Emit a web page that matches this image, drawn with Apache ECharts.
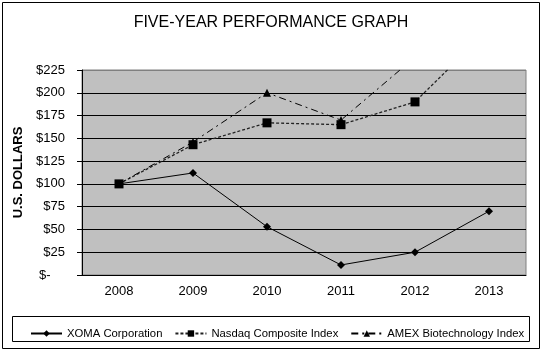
<!DOCTYPE html>
<html>
<head>
<meta charset="utf-8">
<script src="https://cdn.jsdelivr.net/npm/echarts@6/dist/echarts.min.js"></script>
<style>
html, body { margin: 0; padding: 0; background: #fff; }
#main { width: 542px; height: 352px; }
</style>
</head>
<body>
<div id="main"></div>
<script>
// data
var years = ['2008', '2009', '2010', '2011', '2012', '2013'];
var xoma = [100, 112, 53, 11, 25, 70];
var nasdaq = [100, 143, 167, 165, 190, 270];
var amex = [100, 146, 200, 170, 239, 360];
var seriesNames = ['XOMA Corporation', 'Nasdaq Composite Index', 'AMEX Biotechnology Index'];
var yMin = 0, yMax = 225, yStep = 25;

var font = 'Liberation Sans, Arial, sans-serif';
var myChart = echarts.init(document.getElementById('main'));

// split line colours: black, top one grey like the plot border
var splitColors = [];
for (var i = 0; i <= (yMax - yMin) / yStep; i++) {
	splitColors.push(i === (yMax - yMin) / yStep ? '#808080' : '#000');
}

var option = {
	animation: false,
	backgroundColor: '#fff',
	title: {
		text: 'FIVE-YEAR PERFORMANCE GRAPH',
		left: 'center',
		top: 10,
		textStyle: { fontFamily: font, fontSize: 16, fontWeight: 'normal', color: '#000' }
	},
	graphic: [
		{ type: 'rect', shape: { x: 2.5, y: 2.5, width: 537, height: 346 }, style: { fill: null, stroke: '#000', lineWidth: 1 }, z: 100 },
		{ type: 'rect', shape: { x: 12.5, y: 316.5, width: 517, height: 25 }, style: { fill: null, stroke: '#000', lineWidth: 1 }, z: 100 }
	],
	legend: {
		data: seriesNames,
		left: 25,
		top: 323,
		itemWidth: 31,
		itemHeight: 8,
		itemGap: 12,
		textStyle: { fontFamily: font, fontSize: 11.3, color: '#000' }
	},
	grid: {
		left: 82,
		right: 16,
		top: 70,
		bottom: 77,
		show: true,
		backgroundColor: '#c0c0c0',
		borderColor: '#808080',
		borderWidth: 1
	},
	xAxis: {
		type: 'category',
		data: years,
		boundaryGap: true,
		axisLine: { lineStyle: { color: '#000', width: 1 } },
		axisTick: { show: false },
		axisLabel: { margin: 10, fontFamily: font, fontSize: 13, color: '#000' }
	},
	yAxis: {
		type: 'value',
		min: yMin,
		max: yMax,
		interval: yStep,
		name: 'U.S. DOLLARS',
		nameLocation: 'middle',
		nameRotate: 90,
		nameGap: 52,
		nameTextStyle: { fontFamily: font, fontSize: 13, fontWeight: 'bold', color: '#000' },
		axisLine: { show: true, lineStyle: { color: '#000', width: 1 } },
		axisTick: { show: true, length: 5, lineStyle: { color: '#000' } },
		axisLabel: {
			margin: 17,
			fontFamily: font,
			fontSize: 13,
			color: '#000',
			formatter: function (v) {
				return v === 0 ? '$-    ' : '$' + v;
			}
		},
		splitLine: { show: true, lineStyle: { color: splitColors, width: 1 } }
	},
	series: [
		{
			name: seriesNames[0],
			type: 'line',
			data: xoma,
			symbol: 'diamond',
			symbolSize: 8,
			clip: true,
			itemStyle: { color: '#000' },
			lineStyle: { color: '#000', width: 1, type: 'solid' }
		},
		{
			name: seriesNames[1],
			type: 'line',
			data: nasdaq,
			symbol: 'rect',
			symbolSize: 9,
			clip: true,
			itemStyle: { color: '#000' },
			lineStyle: { color: '#222', width: 1.3, type: [3, 2] }
		},
		{
			name: seriesNames[2],
			type: 'line',
			data: amex,
			symbol: 'triangle',
			symbolSize: 8,
			clip: true,
			itemStyle: { color: '#000' },
			lineStyle: { color: '#000', width: 1, type: [7, 4, 2, 4] }
		}
	]
};

myChart.setOption(option);
window.onresize = myChart.resize;
</script>
</body>
</html>
